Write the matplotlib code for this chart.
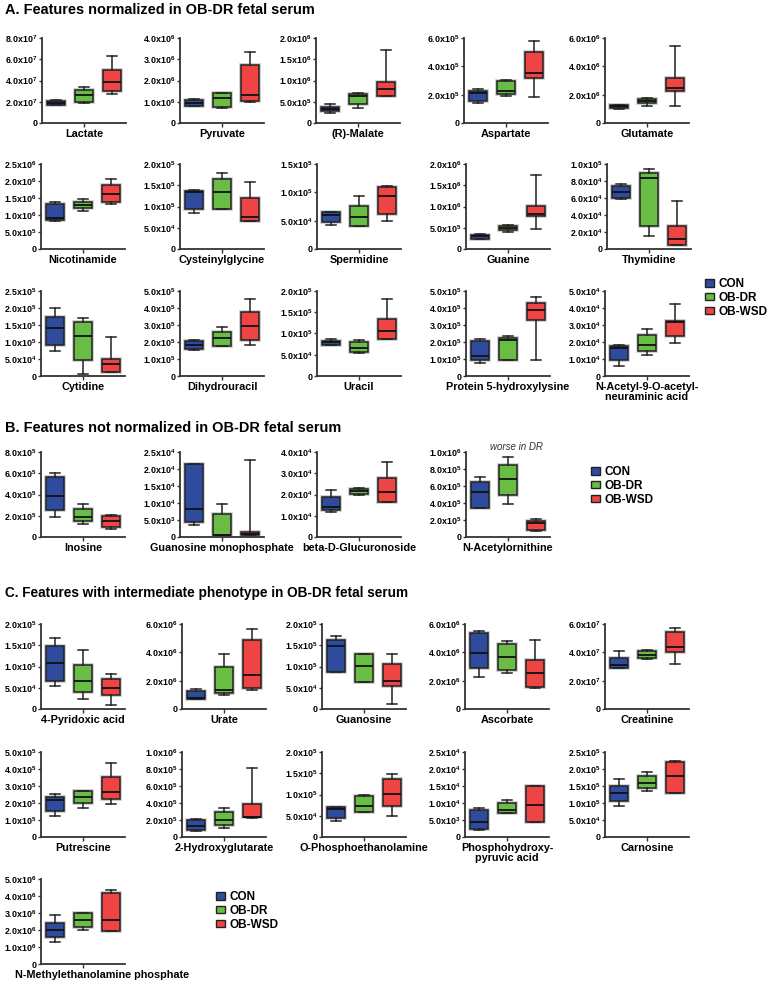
import numpy as np
import matplotlib.pyplot as plt
from matplotlib.patches import Patch
import matplotlib.patheffects as pe

plt.rcParams['font.family'] = ['Liberation Sans', 'DejaVu Sans']
plt.rcParams['font.weight'] = 'bold'
plt.rcParams['mathtext.fontset'] = 'custom'
plt.rcParams['mathtext.rm'] = 'Liberation Sans:bold'
plt.rcParams['mathtext.bf'] = 'Liberation Sans:bold'

groups = ['CON', 'OB-DR', 'OB-WSD']
colors = ['#2f4b9e', '#69bd45', '#ee4444']

# each entry: [whisker low, q1, median, q3, whisker high]
## A. normalized in OB-DR
names_a = ['Lactate', 'Pyruvate', '(R)-Malate', 'Aspartate', 'Glutamate',
           'Nicotinamide', 'Cysteinylglycine', 'Spermidine', 'Guanine', 'Thymidine',
           'Cytidine', 'Dihydrouracil', 'Uracil', 'Protein 5-hydroxylysine',
           'N-Acetyl-9-O-acetyl-\nneuraminic acid']
ymax_a = [8e7, 4e6, 2e6, 6e5, 6e6, 2.5e6, 2e5, 1.5e5, 2e6, 1e5, 2.5e5, 5e5, 2e5, 5e5, 5e4]
step_a = [2e7, 1e6, 5e5, 2e5, 2e6, 5e5, 5e4, 5e4, 5e5, 2e4, 5e4, 1e5, 5e4, 1e5, 1e4]
con_a = [[1.7e7, 1.7e7, 1.9e7, 2.1e7, 2.2e7],
         [0.8e6, 0.8e6, 0.95e6, 1.09e6, 1.15e6],
         [0.24e6, 0.28e6, 0.33e6, 0.38e6, 0.44e6],
         [1.39e5, 1.55e5, 2.1e5, 2.26e5, 2.38e5],
         [0.98e6, 1.03e6, 1.17e6, 1.24e6, 1.28e6],
         [0.83e6, 0.85e6, 0.92e6, 1.31e6, 1.37e6],
         [0.85e5, 0.95e5, 1.35e5, 1.37e5, 1.38e5],
         [0.42e5, 0.48e5, 0.6e5, 0.65e5, 0.66e5],
         [0.23e6, 0.24e6, 0.30e6, 0.34e6, 0.35e6],
         [5.9e4, 6.0e4, 6.67e4, 7.4e4, 7.6e4],
         [0.73e5, 0.92e5, 1.42e5, 1.73e5, 2.0e5],
         [1.52e5, 1.6e5, 1.84e5, 2.03e5, 2.13e5],
         [0.73e5, 0.73e5, 0.79e5, 0.83e5, 0.86e5],
         [0.76e5, 0.92e5, 1.15e5, 2.07e5, 2.2e5],
         [0.6e4, 0.93e4, 1.63e4, 1.77e4, 1.8e4]]
dr_a = [[1.9e7, 2.0e7, 2.65e7, 3.1e7, 3.4e7],
        [0.71e6, 0.74e6, 1.17e6, 1.39e6, 1.4e6],
        [0.35e6, 0.44e6, 0.63e6, 0.69e6, 0.7e6],
        [1.9e5, 2.05e5, 2.28e5, 3.0e5, 3.04e5],
        [1.21e6, 1.38e6, 1.56e6, 1.68e6, 1.78e6],
        [1.12e6, 1.2e6, 1.3e6, 1.38e6, 1.47e6],
        [0.95e5, 0.95e5, 1.35e5, 1.64e5, 1.8e5],
        [0.41e5, 0.41e5, 0.57e5, 0.76e5, 0.93e5],
        [0.41e6, 0.44e6, 0.49e6, 0.54e6, 0.56e6],
        [1.57e4, 2.7e4, 8.3e4, 9.0e4, 9.4e4],
        [0.05e5, 0.48e5, 1.17e5, 1.6e5, 1.72e5],
        [1.78e5, 1.78e5, 2.25e5, 2.6e5, 2.87e5],
        [0.53e5, 0.56e5, 0.65e5, 0.8e5, 0.85e5],
        [0.92e5, 0.96e5, 2.1e5, 2.23e5, 2.34e5],
        [1.25e4, 1.45e4, 1.81e4, 2.4e4, 2.76e4]]
wsd_a = [[2.75e7, 3.05e7, 3.9e7, 5.0e7, 6.35e7],
         [0.98e6, 1.02e6, 1.34e6, 2.74e6, 3.34e6],
         [0.63e6, 0.63e6, 0.79e6, 0.96e6, 1.72e6],
         [1.84e5, 3.15e5, 3.55e5, 5.04e5, 5.76e5],
         [1.19e6, 2.29e6, 2.45e6, 3.2e6, 5.42e6],
         [1.32e6, 1.39e6, 1.63e6, 1.88e6, 2.07e6],
         [0.67e5, 0.67e5, 0.75e5, 1.2e5, 1.57e5],
         [0.5e5, 0.62e5, 0.93e5, 1.09e5, 1.12e5],
         [0.48e6, 0.78e6, 0.83e6, 1.01e6, 1.73e6],
         [0.47e4, 0.47e4, 1.2e4, 2.67e4, 5.7e4],
         [0.11e5, 0.13e5, 0.34e5, 0.5e5, 1.14e5],
         [1.84e5, 2.09e5, 2.95e5, 3.75e5, 4.5e5],
         [0.88e5, 0.88e5, 1.05e5, 1.35e5, 1.82e5],
         [0.92e5, 3.32e5, 3.9e5, 4.3e5, 4.65e5],
         [1.92e4, 2.38e4, 3.17e4, 3.23e4, 4.25e4]]

## B. not normalized
names_b = ['Inosine', 'Guanosine monophosphate', 'beta-D-Glucuronoside', 'N-Acetylornithine']
ymax_b = [8e5, 2.5e4, 4e4, 1e6]
step_b = [2e5, 5e3, 1e4, 2e5]
con_b = [[1.9e5, 2.55e5, 3.85e5, 5.6e5, 6.06e5],
         [0.34e4, 0.44e4, 0.81e4, 2.15e4, 2.16e4],
         [1.17e4, 1.28e4, 1.43e4, 1.9e4, 2.22e4],
         [3.38e5, 3.46e5, 5.27e5, 6.46e5, 7.0e5]]
dr_b = [[1.26e5, 1.54e5, 1.9e5, 2.68e5, 3.14e5],
        [0.06e4, 0.06e4, 0.07e4, 0.69e4, 0.96e4],
        [1.98e4, 2.02e4, 2.17e4, 2.26e4, 2.3e4],
        [3.92e5, 4.92e5, 6.77e5, 8.46e5, 9.42e5]]
wsd_b = [[0.77e5, 0.92e5, 1.54e5, 1.94e5, 2.06e5],
         [0.06e4, 0.06e4, 0.09e4, 0.15e4, 2.27e4],
         [1.65e4, 1.65e4, 2.12e4, 2.78e4, 3.54e4],
         [0.69e5, 0.77e5, 1.65e5, 1.88e5, 2.08e5]]

## C. intermediate phenotype
names_c = ['4-Pyridoxic acid', 'Urate', 'Guanosine', 'Ascorbate', 'Creatinine',
           'Putrescine', '2-Hydroxyglutarate', 'O-Phosphoethanolamine',
           'Phosphohydroxy-\npyruvic acid', 'Carnosine', 'N-Methylethanolamine phosphate']
ymax_c = [2e5, 6e6, 2e5, 6e6, 6e7, 5e5, 1e6, 2e5, 2.5e4, 2.5e5, 5e6]
step_c = [5e4, 2e6, 5e4, 2e6, 2e7, 1e5, 2e5, 5e4, 5e3, 5e4, 1e6]
con_c = [[0.55e5, 0.67e5, 1.08e5, 1.49e5, 1.68e5],
         [0.7e6, 0.74e6, 0.8e6, 1.26e6, 1.4e6],
         [0.87e5, 0.88e5, 1.49e5, 1.62e5, 1.72e5],
         [2.23e6, 2.92e6, 3.95e6, 5.33e6, 5.49e6],
         [2.87e7, 2.87e7, 3.13e7, 3.61e7, 4.07e7],
         [1.25e5, 1.52e5, 2.2e5, 2.37e5, 2.53e5],
         [0.74e5, 0.82e5, 1.32e5, 1.95e5, 2.06e5],
         [0.38e5, 0.45e5, 0.67e5, 0.7e5, 0.71e5],
         [0.2e4, 0.25e4, 0.45e4, 0.8e4, 0.85e4],
         [0.9e5, 1.05e5, 1.3e5, 1.5e5, 1.7e5],
         [1.28e6, 1.59e6, 1.98e6, 2.42e6, 2.87e6]]
dr_c = [[0.24e5, 0.4e5, 0.67e5, 1.03e5, 1.39e5],
        [1.0e6, 1.15e6, 1.36e6, 3.0e6, 3.9e6],
        [0.63e5, 0.64e5, 1.01e5, 1.3e5, 1.3e5],
        [2.53e6, 2.74e6, 3.66e6, 4.6e6, 4.8e6],
        [3.54e7, 3.63e7, 3.82e7, 4.09e7, 4.16e7],
        [1.69e5, 2.0e5, 2.35e5, 2.68e5, 2.72e5],
        [1.09e5, 1.4e5, 1.98e5, 2.92e5, 3.46e5],
        [0.59e5, 0.59e5, 0.72e5, 0.97e5, 0.99e5],
        [0.7e4, 0.72e4, 0.8e4, 1.0e4, 1.08e4],
        [1.35e5, 1.45e5, 1.6e5, 1.8e5, 1.9e5],
        [2.0e6, 2.17e6, 2.56e6, 2.98e6, 2.98e6]]
wsd_c = [[0.09e5, 0.32e5, 0.49e5, 0.7e5, 0.83e5],
         [1.36e6, 1.45e6, 2.41e6, 4.9e6, 5.63e6],
         [0.12e5, 0.54e5, 0.67e5, 1.05e5, 1.3e5],
         [1.49e6, 1.54e6, 2.55e6, 3.47e6, 4.87e6],
         [3.17e7, 4.05e7, 4.37e7, 5.42e7, 5.72e7],
         [1.96e5, 2.24e5, 2.65e5, 3.54e5, 4.38e5],
         [2.26e5, 2.33e5, 2.41e5, 3.93e5, 8.1e5],
         [0.49e5, 0.72e5, 1.02e5, 1.37e5, 1.49e5],
         [0.45e4, 0.45e4, 0.95e4, 1.5e4, 1.5e4],
         [1.3e5, 1.3e5, 1.8e5, 2.2e5, 2.25e5],
         [1.96e6, 1.96e6, 2.58e6, 4.17e6, 4.38e6]]

W, H = 768, 984
fig = plt.figure(figsize=(W / 100, H / 100), dpi=100)


def sci(v):
    if v == 0:
        return '0'
    e = int(np.floor(np.log10(v) + 1e-9))
    m = v / 10 ** e
    return f'{m:.1f}x10$^{{{e}}}$'


def panel(left, top, name, ymax, step, s_con, s_dr, s_wsd, dx=0):
    ax = fig.add_axes([left / W, 1 - (top + 85) / H, 84 / W, 85 / H])
    stats = []
    for s in (s_con, s_dr, s_wsd):
        stats.append(dict(whislo=s[0], q1=s[1], med=s[2], q3=s[3], whishi=s[4], fliers=[]))
    res = ax.bxp(stats, positions=[1, 2, 3], widths=0.65, patch_artist=True,
                 showfliers=False,
                 boxprops=dict(edgecolor='#222222', linewidth=1.1),
                 medianprops=dict(color='#111111', linewidth=1.3),
                 whiskerprops=dict(color='#222222', linewidth=1.1),
                 capprops=dict(color='#222222', linewidth=1.1))
    for b, c in zip(res['boxes'], colors):
        b.set_facecolor(c)
        b.set_path_effects([pe.Stroke(linewidth=2.6, foreground='#c8c8c8'), pe.Normal()])
    ax.set_xlim(0.5, 3.5)
    ax.set_ylim(0, ymax)
    ticks = np.arange(0, ymax + step / 2, step)
    ax.set_yticks(ticks)
    ax.set_yticklabels([sci(t) for t in ticks], fontsize=6.4, fontweight='bold')
    ax.set_xticks([2])
    ax.set_xticklabels([''])
    ax.annotate(name, xy=(0.5, 0), xycoords='axes fraction', xytext=(dx, -4.2),
                textcoords='offset points', ha='center', va='top', fontsize=7.8,
                fontweight='bold', multialignment='center', linespacing=1.05)
    for sp in ['top', 'right']:
        ax.spines[sp].set_visible(False)
    for sp in ['left', 'bottom']:
        ax.spines[sp].set_color('#333333')
        ax.spines[sp].set_linewidth(1.3)
    ax.tick_params(axis='y', length=2.5, width=1, pad=1, colors='#333333', labelcolor='black')
    ax.tick_params(axis='x', length=3, width=1, colors='#333333')
    return ax


def legend(x, y):
    handles = [Patch(facecolor=c, edgecolor='#222222', linewidth=1.0) for c in colors]
    fig.legend(handles, groups, loc='upper left', bbox_to_anchor=(x / W, 1 - y / H),
               frameon=False, prop={'weight': 'bold', 'size': 8.5},
               handlelength=0.75, handleheight=0.6, handletextpad=0.4,
               labelspacing=0.15, borderaxespad=0, borderpad=0)


def title(y, txt, size):
    fig.text(5 / W, 1 - y / H, txt, fontsize=size, fontweight='bold', va='center', ha='left')


title(10, 'A. Features normalized in OB-DR fetal serum', 10.45)
lefts_a = [[42, 180, 316, 464, 605], [41, 180, 317, 466, 607], [41, 180, 317, 466, 605]]
tops_a = [38, 164, 291]
for i in range(len(names_a)):
    r, c = divmod(i, 5)
    panel(lefts_a[r][c], tops_a[r], names_a[i], ymax_a[i], step_a[i], con_a[i], dr_a[i], wsd_a[i])
legend(705, 278)

title(428, 'B. Features not normalized in OB-DR fetal serum', 10.45)
lefts_b = [41, 180, 317, 466]
for i in range(len(names_b)):
    panel(lefts_b[i], 452, names_b[i], ymax_b[i], step_b[i], con_b[i], dr_b[i], wsd_b[i])
fig.text(516 / W, 1 - 447 / H, 'worse in DR', fontsize=7, style='italic',
         fontweight='normal', color='#333333', ha='center', va='center')
legend(591, 466)

title(593, 'C. Features with intermediate phenotype in OB-DR fetal serum', 9.8)
lefts_c = [[41, 182, 322, 465, 605], [41, 182, 322, 465, 605], [41]]
tops_c = [624, 752, 879]
for i in range(len(names_c)):
    r, c = divmod(i, 5)
    shift = 14 if i == len(names_c) - 1 else 0
    panel(lefts_c[r][c], tops_c[r], names_c[i], ymax_c[i], step_c[i], con_c[i], dr_c[i], wsd_c[i], dx=shift)
legend(216, 891)

fig.savefig('out.png', dpi=100)
